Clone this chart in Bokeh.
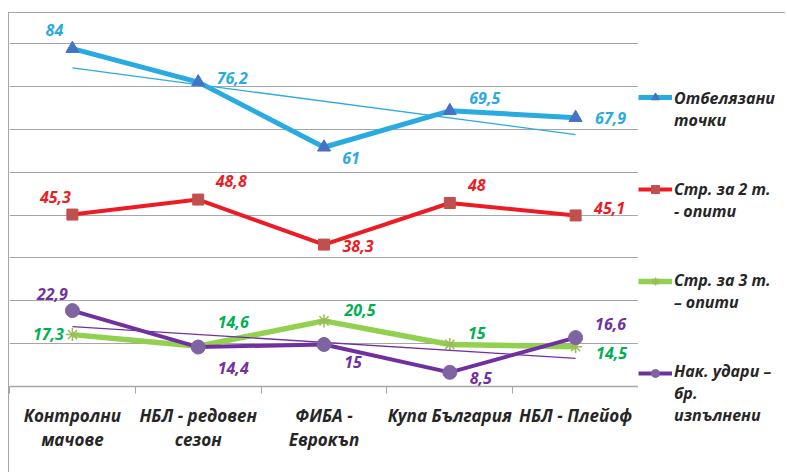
from bokeh.plotting import figure
from bokeh.layouts import row
from bokeh.models import ColumnDataSource, Range1d, FixedTicker, Legend, LegendItem
from bokeh.embed import file_html
from bokeh.resources import INLINE
from bokeh.core.properties import value
import numpy as np

# ---------------- data ----------------
categories = ["Контролни\nмачове", "НБЛ - редовен\nсезон", "ФИБА -\nЕврокъп",
              "Купа България", "НБЛ - Плейоф"]
points = [84, 76.2, 61, 69.5, 67.9]          # Отбелязани точки
two_pt = [45.3, 48.8, 38.3, 48, 45.1]        # Стр. за 2 т. - опити
three_pt = [17.3, 14.6, 20.5, 15, 14.5]      # Стр. за 3 т. – опити
fouls = [22.9, 14.4, 15, 8.5, 16.6]          # Нак. удари – бр. изпълнени
series_names = ["Отбелязани\nточки", "Стр. за 2 т.\n- опити",
                "Стр. за 3 т.\n– опити", "Нак. удари –\nбр.\nизпълнени"]
y_min, y_max, y_step = 5.2, 92.2, 10

# ---------------- style ----------------
FONT = "Open Sans"
GRID = "#A6A6A6"
TXT = "#262626"
styles = [
    dict(line="#29ABE2", lw=5, marker="triangle", mfill="#4472C4", msize=13, label="#29ABE2",
         dx=[-18, 34, 27, 35, 35], dy=[-19, -4, 11, -13, 0], trend=True),
    dict(line="#ED1C24", lw=4, marker="square", mfill="#C0504D", msize=11, label="#ED1C24",
         dx=[-17, 33, 34, 27, 34], dy=[-18, -19, 1, -18, -7], trend=False),
    dict(line="#92D050", lw=5.5, marker="asterisk", mfill="#9BBB59", msize=13, label="#00B050",
         dx=[-24, 35, 36, 27, 36], dy=[-1, -24, -11, -11, 6], trend=False),
    dict(line="#7030A0", lw=4, marker="circle", mfill="#8064A2", msize=14, label="#7030A0",
         dx=[-20, 35, 29, 31, 35], dy=[-17, 21, 18, 6, -14], trend=True),
]
series = [points, two_pt, three_pt, fouls]

x = list(range(len(categories)))

p = figure(width=629, height=459, x_range=Range1d(-0.5, len(categories) - 0.5),
           y_range=Range1d(y_min, y_max), output_backend="svg", toolbar_location=None,
           y_axis_location=None, min_border_left=0, min_border_top=0,
           min_border_right=0, min_border_bottom=86)
p.frame_align = False
p.outline_line_color = None
p.background_fill_color = "white"
p.border_fill_color = "white"

p.xgrid.visible = False
p.ygrid.ticker = FixedTicker(ticks=[y_min + y_step * k for k in range(1, 9)])
p.ygrid.grid_line_color = GRID
p.ygrid.grid_line_width = 1

ax = p.xaxis[0]
ax.ticker = FixedTicker(ticks=x, minor_ticks=[i - 0.5 for i in range(len(categories) + 1)])
ax.major_label_overrides = {i: c for i, c in enumerate(categories)}
ax.major_tick_in = 0
ax.major_tick_out = 0
ax.minor_tick_in = 0
ax.minor_tick_out = 7
ax.minor_tick_line_color = GRID
ax.axis_line_color = GRID
ax.axis_line_width = 1.5
ax.major_label_text_font = FONT
ax.major_label_text_font_style = "bold italic"
ax.major_label_text_font_size = "17px"
ax.major_label_text_line_height = 1.06
ax.major_label_text_color = TXT
ax.major_label_standoff = 10

# legend panel (separate figure to the right of the plot area; its ranges hide the data)
p2 = figure(width=147, height=459, x_range=Range1d(0, 1), y_range=Range1d(0, 1),
            output_backend="svg", toolbar_location=None, x_axis_location=None,
            y_axis_location=None, min_border=0)
p2.frame_align = False
p2.outline_line_color = None
p2.grid.visible = False
p2.border_fill_color = "white"
p2.background_fill_color = "white"

glyph_items, label_items = [], []
for vals, st, name in zip(series, styles, series_names):
    p.line(x, vals, line_color=st["line"], line_width=st["lw"], line_join="round")
    if st["trend"]:
        k, b = np.polyfit(x, vals, 1)
        xt = [x[0], x[-1]]
        p.line(xt, [k * xi + b for xi in xt], line_color=st["line"], line_width=1.3)
    mk_kw = dict(marker=st["marker"], size=st["msize"], line_color=st["mfill"])
    if st["marker"] == "asterisk":
        mk_kw["line_width"] = 1.5
    else:
        mk_kw["fill_color"] = st["mfill"]
    p.scatter(x, vals, **mk_kw)
    src = ColumnDataSource(dict(x=x, y=vals,
                                t=[f"{v:g}".replace(".", ",") for v in vals],
                                dx=st["dx"], dy=st["dy"]))
    p.text(x="x", y="y", text="t", x_offset="dx", y_offset="dy", source=src,
           text_align="center", text_baseline="middle", text_font=value(FONT),
           text_font_style="bold italic", text_font_size="16px", text_color=st["label"])
    # legend proxies (same data, outside the legend panel's visible range)
    lg_ln = p2.line(x, vals, line_color=st["line"], line_width=st["lw"], line_cap="butt")
    lg_mk = p2.scatter(x, vals, **mk_kw)
    glyph_items.append(LegendItem(label=" ", renderers=[lg_ln, lg_mk]))
    label_items.append(LegendItem(label=name, renderers=[lg_ln]))

common = dict(border_line_color=None, background_fill_alpha=0, padding=0, margin=0,
              label_text_font=FONT, label_text_font_style="bold italic",
              label_text_font_size="16px", label_text_color=TXT)
legend_glyphs = Legend(items=glyph_items, location=(0, 89), glyph_width=34, glyph_height=20,
                       label_height=20, label_standoff=0, spacing=72, **common)
legend_labels = Legend(items=label_items, location=(36, 46), glyph_width=0, glyph_height=20,
                       label_standoff=0, label_text_line_height=1.55, spacing=47, **common)
p2.add_layout(legend_glyphs)
p2.add_layout(legend_labels)

layout = row(p, p2, spacing=0,
             styles={"margin-left": "8px", "margin-top": "12px",
                     "border-top": "1px solid #A6A6A6", "border-left": "1px solid #A6A6A6"})

open("out.html", "w").write(file_html(layout, INLINE))
